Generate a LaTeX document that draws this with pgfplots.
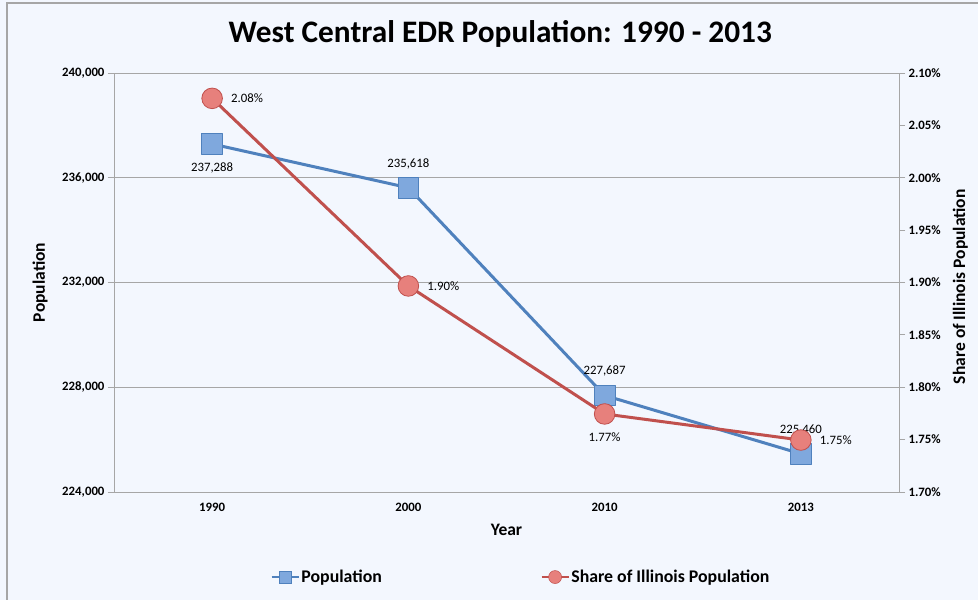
\documentclass[border=0pt]{standalone}
\usepackage{fontspec}
\setmainfont{Carlito}
\usepackage{pgfplots}
\pgfplotsset{compat=1.18}
\usepackage{pgfplotstable}

\definecolor{popblue}{HTML}{4F81BD}
\definecolor{popfill}{HTML}{7FA8DD}
\definecolor{shred}{HTML}{C0504D}
\definecolor{shfill}{HTML}{E7807C}
\definecolor{bgc}{HTML}{F3F7FE}
\definecolor{gridc}{HTML}{A6A6A6}

% population and its label
\pgfplotstableread{
x pop lab
0 237288 237,288
1 235618 235,618
2 227687 227,687
3 225460 225,460
}\poptable

% share of Illinois population (%)
\pgfplotstableread{
x share lab
0 2.0758 2.08
1 1.8967 1.90
2 1.7745 1.77
3 1.7496 1.75
}\sharetable

% which side each label sits on
\def\popanc#1{\ifcase#1 north\or south\or south\else south\fi}
\def\shanc#1{\ifcase#1 west\or west\or north\else west\fi}

\tikzset{lab/.style={font=\fontsize{12.8}{14}\selectfont, text=black, inner sep=0pt, outer sep=19pt}}
\newcommand\labfont{\bfseries\fontsize{17.5}{19}\selectfont}

\pgfplotsset{
  base/.style={
    scale only axis, width=785pt, height=419pt,
    xmin=-0.5, xmax=3.5,
    axis line style={gridc, line width=0.8pt},
    tick style={gridc, line width=0.8pt},
    tick align=outside, major tick length=6pt,
    /pgf/number format/assume math mode=true,
    ticklabel style={font=\bfseries\fontsize{12.8}{14}\selectfont},
    clip=false,
  },
}

\begin{document}
\begin{tikzpicture}
\useasboundingbox (-114pt,-108pt) rectangle (864pt,492pt);
\fill[bgc] (-114pt,-108pt) rectangle (864pt,492pt);
\draw[gridc, line width=1.2pt] (-107pt,-120pt) -- (-107pt,489pt) -- (880pt,489pt);

\begin{axis}[base,
  ymin=224000, ymax=240000,
  ytick={224000,228000,232000,236000,240000},
  ytick pos=left,
  ymajorgrids, grid style={gridc, line width=0.8pt},
  scaled y ticks=false,
  yticklabel style={/pgf/number format/.cd, fixed, 1000 sep={,}},
  xtick={0,1,2,3}, xticklabels={1990,2000,2010,2013},
  xtick pos=bottom, x tick style={draw=none},
  xticklabel style={yshift=-2pt},
  xlabel={Year}, ylabel={Population},
  every axis x label/.style={at={(axis description cs:0.5,-0.091)}, anchor=center, font=\labfont},
  every axis y label/.style={at={(axis description cs:-0.094,0.5)}, rotate=90, anchor=center, font=\labfont},
]
\addplot[popblue, line width=3pt, line join=round,
  mark=square*, mark size=10.3pt,
  mark options={fill=popfill, draw=popblue, line width=0.8pt},
  point meta=explicit symbolic, nodes near coords,
  visualization depends on={value \coordindex \as \idx},
  every node near coord/.append style={lab, anchor=\popanc{\idx}}]
  table[x=x, y=pop, meta=lab] {\poptable};
\end{axis}

\begin{axis}[base,
  axis x line=none, axis y line*=right,
  ymin=1.70, ymax=2.10,
  ytick={1.70,1.75,1.80,1.85,1.90,1.95,2.00,2.05,2.10},
  yticklabel={\pgfmathprintnumber[fixed, fixed zerofill, precision=2]{\tick}\%},
  ylabel={Share of Illinois Population},
  every axis y label/.style={at={(axis description cs:1.078,0.49)}, rotate=90, anchor=center, font=\labfont},
  title={West Central EDR Population: 1990 - 2013},
  title style={at={(axis description cs:0.492,1.079)}, anchor=center,
    font=\bfseries\fontsize{31.3}{35}\selectfont},
  legend image code/.code={\draw[mark repeat=2, mark phase=2, #1]
    plot coordinates {(0pt,0pt) (13.5pt,0pt) (27pt,0pt)};},
  legend style={at={(axis description cs:0.518,-0.203)}, anchor=center,
    draw=none, fill=none, legend columns=2,
    font=\bfseries\fontsize{17.8}{20}\selectfont,
    nodes={inner xsep=1.5pt},
    /tikz/every even column/.append style={column sep=157pt}},
]
\addlegendimage{popblue, line width=2.5pt, mark=square*, mark size=6pt,
  mark options={fill=popfill, draw=popblue, line width=0.5pt}}
\addlegendimage{shred, line width=2.5pt, mark=*, mark size=6.5pt,
  mark options={fill=shfill, draw=shred, line width=0.5pt}}
\legend{Population, Share of Illinois Population}
\addplot[forget plot, shred, line width=3pt, line join=round,
  mark=*, mark size=10.3pt,
  mark options={fill=shfill, draw=shred, line width=0.8pt},
  point meta=explicit symbolic, nodes near coords={\pgfplotspointmeta\%},
  visualization depends on={value \coordindex \as \idx},
  every node near coord/.append style={lab, anchor=\shanc{\idx}}]
  table[x=x, y=share, meta=lab] {\sharetable};
\end{axis}
\end{tikzpicture}
\end{document}
